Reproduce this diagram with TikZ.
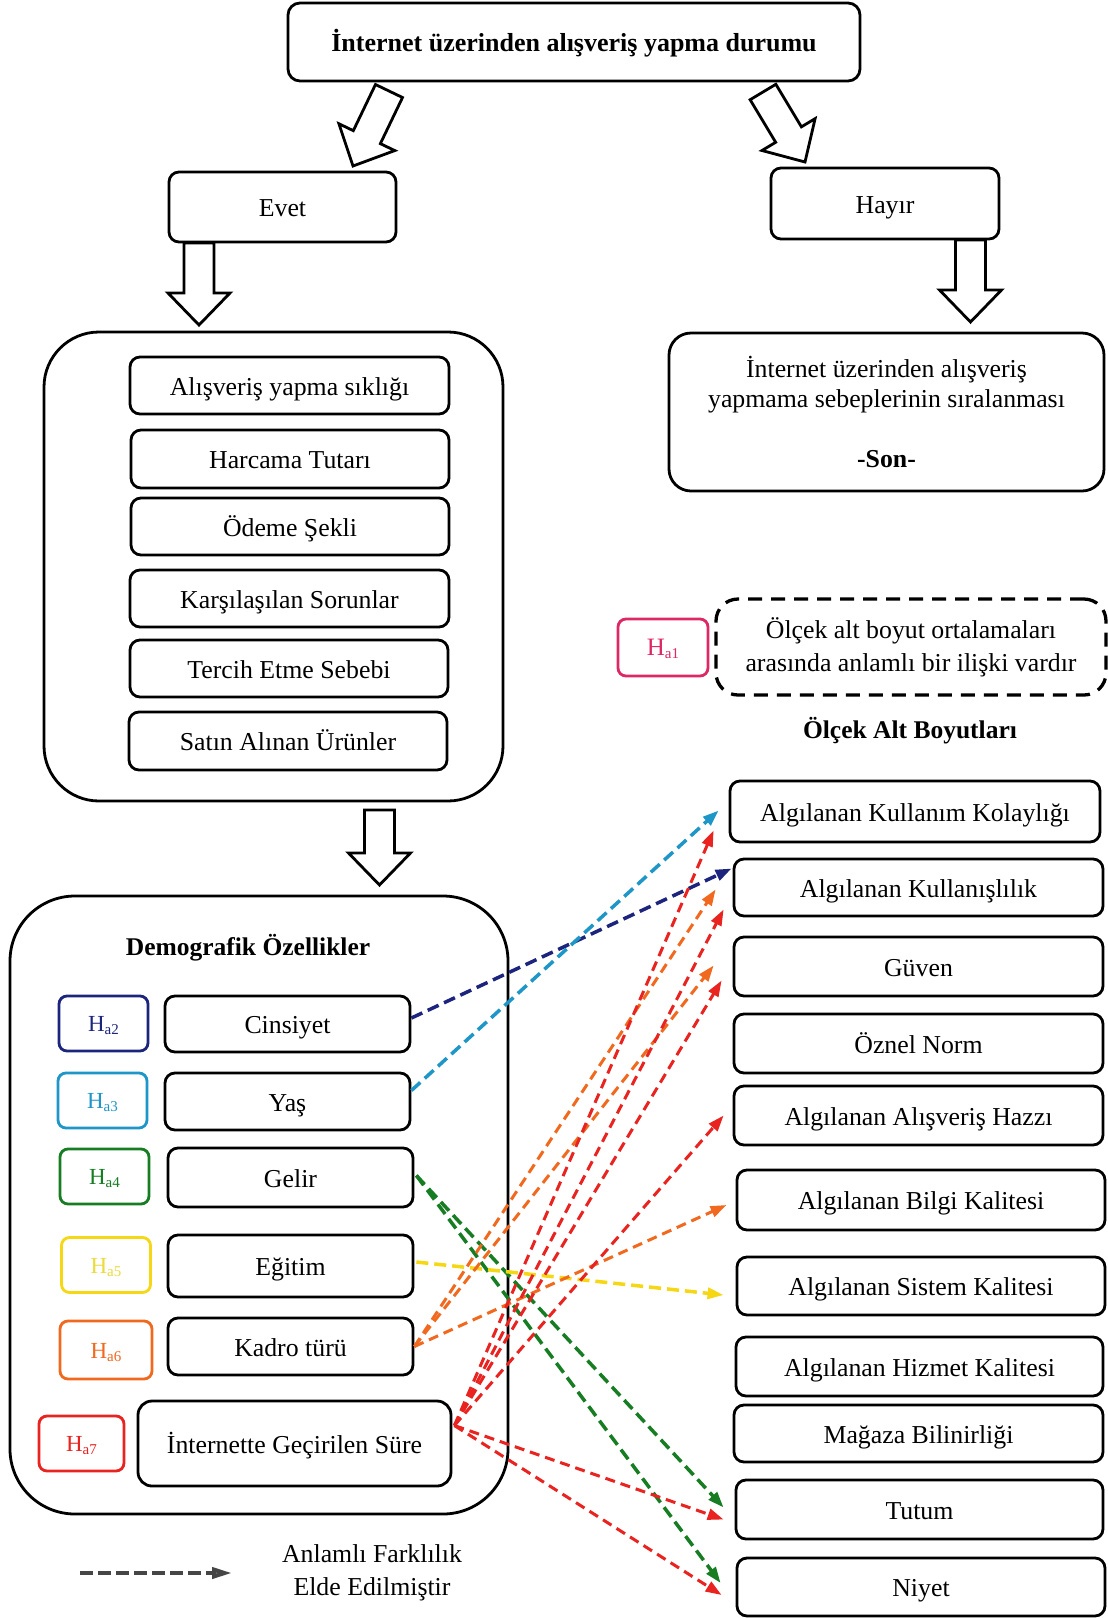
\documentclass[tikz,border=0pt]{standalone}
\usepackage{fontspec}
\setmainfont{Liberation Serif}
\usetikzlibrary{calc,arrows.meta}
\definecolor{cnavy}{RGB}{28,36,125}
\definecolor{ccyan}{RGB}{30,150,200}
\definecolor{cgreen}{RGB}{22,125,35}
\definecolor{cyellow}{RGB}{245,215,20}
\definecolor{cyellowtxt}{RGB}{235,220,60}
\definecolor{corange}{RGB}{240,105,30}
\definecolor{cred}{RGB}{232,35,32}
\definecolor{cpink}{RGB}{222,40,100}
\definecolor{cgray}{RGB}{70,70,70}
\newcommand{\hsub}[1]{H\raisebox{-3pt}{\fontsize{15}{15}\selectfont #1}}
\newcommand{\blockarr}[2]{%
  \path ($(#2)!32pt!(#1)$) coordinate (bah);
  \draw[barrow] ($(#1)!15pt!90:(#2)$) -- ($(bah)!15pt!90:(#2)$) -- ($(bah)!31pt!90:(#2)$) -- (#2)
     -- ($(bah)!31pt!-90:(#2)$) -- ($(bah)!15pt!-90:(#2)$) -- ($(#1)!15pt!-90:(#2)$) -- cycle;}
\begin{document}
\begin{tikzpicture}[x=1pt,y=-1pt,
  bxm/.style={draw, line width=2.8pt, rounded corners=10pt, align=center, inner sep=0pt,
    font=\fontsize{25.8}{30}\selectfont},
  bx/.style={bxm, text height=21pt, text depth=2pt},
  rb/.style={bx, minimum width=369pt},
  db/.style={bx, minimum width=245pt},
  lb/.style={bx, minimum width=318pt, minimum height=57pt},
  hb/.style={draw=#1, text=#1, line width=2.8pt, rounded corners=8pt, minimum width=89pt,
    minimum height=55pt, inner sep=0pt, text height=17pt, text depth=1pt,
    font=\fontsize{23}{23}\selectfont},
  big/.style={draw, line width=2.8pt, inner sep=0pt},
  ttl/.style={font=\fontsize{25.5}{30}\selectfont\bfseries, inner sep=0pt},
  barrow/.style={draw, fill=white, line width=2.8pt, line join=miter},
  conn/.style={line width=3pt, dash pattern=on 10pt off 6pt, -{Triangle[length=16pt,width=11pt]}},
  connw/.style={conn, line width=3.5pt, dash pattern=on 12pt off 6pt},
]
\useasboundingbox (0,0) rectangle (1108,1618);
\fill[white] (0,0) rectangle (1108,1618);

% top part
\node[bx, rounded corners=12pt, minimum width=572pt, minimum height=78pt,
  font=\fontsize{26}{30}\selectfont\bfseries] (top) at (574,42) {İnternet üzerinden alışveriş yapma durumu};
\node[bx, minimum width=227pt, minimum height=70pt] (evet) at (282.5,207) {Evet};
\node[bx, minimum width=228pt, minimum height=71pt] (hayir) at (885,203.5) {Hayır};

\coordinate (a1s) at (389,91);  \coordinate (a1e) at (353,166);
\coordinate (a2s) at (763,92);  \coordinate (a2e) at (805,162);
\coordinate (a3s) at (199,243); \coordinate (a3e) at (199,325);
\coordinate (a4s) at (970.5,240); \coordinate (a4e) at (970.5,322);
\coordinate (a5s) at (379.5,810); \coordinate (a5e) at (379.5,885);
\blockarr{a1s}{a1e}
\blockarr{a2s}{a2e}
\blockarr{a3s}{a3e}
\blockarr{a4s}{a4e}

% left group
\node[big, rounded corners=55pt, minimum width=459pt, minimum height=469pt] (leftbig) at (273.5,566.5) {};
\node[lb, minimum width=319pt] (alis) at (289.5,385.5) {Alışveriş yapma sıklığı};
\node[lb, minimum height=58pt] (harc) at (290,459) {Harcama Tutarı};
\node[lb] (odeme) at (290,526.5) {Ödeme Şekli};
\node[lb, minimum width=319pt] (kars) at (289.5,598.5) {Karşılaşılan Sorunlar};
\node[lb] (terc) at (289,668.5) {Tercih Etme Sebebi};
\node[lb, minimum height=58pt] (satin) at (288,741) {Satın Alınan Ürünler};

% right top
\node[bxm, rounded corners=22pt, minimum width=435pt, minimum height=158pt] (son) at (886.5,412)
  {İnternet üzerinden alışveriş\\yapmama sebeplerinin sıralanması\\[30pt]\textbf{-Son-}};

\node[hb=cpink, minimum width=90pt, minimum height=57pt, font=\fontsize{25}{25}\selectfont] (ha1) at (663,647.5) {\hsub{a1}};
\node[bxm, rounded corners=22pt, line width=3.3pt, dash pattern=on 14pt off 9pt,
  minimum width=390pt, minimum height=96pt, font=\fontsize{25.8}{33}\selectfont] (hyp) at (911,647)
  {Ölçek alt boyut ortalamaları\\arasında anlamlı bir ilişki vardır};
\node[ttl] (olcek) at (910,731) {Ölçek Alt Boyutları};

\blockarr{a5s}{a5e}

% demographic group
\node[big, rounded corners=65pt, minimum width=498pt, minimum height=618pt] (demo) at (259,1205) {};
\node[ttl] (demot) at (248,948) {Demografik Özellikler};
\node[hb=cnavy] (ha2) at (103.5,1023.5) {\hsub{a2}};
\node[hb=ccyan] (ha3) at (102.5,1100.5) {\hsub{a3}};
\node[hb=cgreen] (ha4) at (104.5,1176.5) {\hsub{a4}};
\node[hb=cyellow, text=cyellowtxt] (ha5) at (106,1265) {\hsub{a5}};
\node[hb=corange, minimum width=92pt, minimum height=58pt] (ha6) at (106,1350) {\hsub{a6}};
\node[hb=cred, minimum width=85pt] (ha7) at (81.5,1443.5) {\hsub{a7}};
\node[db, minimum height=56pt] (cins) at (287.5,1024) {Cinsiyet};
\node[db, minimum height=57pt] (yas) at (287.5,1101.5) {Yaş};
\node[db, minimum height=59pt] (gelir) at (290.5,1177.5) {Gelir};
\node[db, minimum height=62pt] (egit) at (290.5,1266) {Eğitim};
\node[db, minimum height=57pt] (kadro) at (290.5,1346.5) {Kadro türü};
\node[bx, rounded corners=14pt, minimum width=313pt, minimum height=85pt] (inet) at (294.5,1443.5) {İnternette Geçirilen Süre};

% right column
\node[rb, minimum width=370pt, minimum height=61pt] (r1) at (915,811.5) {Algılanan Kullanım Kolaylığı};
\node[rb, minimum height=57pt] (r2) at (918.5,887.5) {Algılanan Kullanışlılık};
\node[rb, minimum height=59pt] (r3) at (918.5,966.5) {Güven};
\node[rb, minimum height=59pt] (r4) at (918.5,1043.5) {Öznel Norm};
\node[rb, minimum height=59pt] (r5) at (918.5,1115.5) {Algılanan Alışveriş Hazzı};
\node[rb, minimum width=368pt, minimum height=60pt] (r6) at (921,1200) {Algılanan Bilgi Kalitesi};
\node[rb, minimum width=368pt, minimum height=58pt] (r7) at (921,1286) {Algılanan Sistem Kalitesi};
\node[rb, minimum width=367pt, minimum height=59pt] (r8) at (919.5,1366.5) {Algılanan Hizmet Kalitesi};
\node[rb, minimum height=57pt] (r9) at (918.5,1433.5) {Mağaza Bilinirliği};
\node[rb, minimum width=367pt, minimum height=59pt] (r10) at (919.5,1509.5) {Tutum};
\node[rb, minimum width=368pt, minimum height=58pt] (r11) at (921,1587) {Niyet};

% connectors
\draw[connw, cnavy] ($(cins.east)+(0,-6)$) -- ($(r2.west)+(-1,-19)$);
\draw[connw, ccyan] ($(yas.east)+(0,-11)$) -- ($(r1.west)+(-10,-1)$);
\draw[connw, cgreen] ($(gelir.east)+(2,-2)$) -- ($(r10.west)+(-11,-2)$);
\draw[connw, cgreen] ($(gelir.east)+(2,-2)$) -- ($(r11.west)+(-15,-4)$);
\draw[connw, cyellow] ($(egit.east)+(2,-4)$) -- ($(r7.west)+(-12,9)$);
\draw[conn, corange] (kadro.east) -- ($(r2.west)+(-17,2)$);
\draw[conn, corange] (kadro.east) -- ($(r3.west)+(-19,-1)$);
\draw[conn, corange] (kadro.east) -- ($(r6.west)+(-9,5)$);
\coordinate (rs) at ($(inet.east)+(2,-18)$);
\draw[conn, cred] (rs) -- ($(r1.west)+(-15,19)$);
\draw[conn, cred] (rs) -- ($(r2.west)+(-9,22)$);
\draw[conn, cred] (rs) -- ($(r3.west)+(-11,14)$);
\draw[conn, cred] (rs) -- ($(r5.west)+(-9,0)$);
\draw[conn, cred] (rs) -- ($(r10.west)+(-11,10)$);
\draw[conn, cred] (rs) -- ($(r11.west)+(-14,8)$);

% legend
\coordinate (lg1) at (80,1573);
\coordinate (lg2) at (232,1573);
\draw[cgray, line width=4pt, dash pattern=on 13pt off 5pt,
  -{Triangle[length=20pt,width=11pt,fill=gray!70]}] (lg1) -- (lg2);
\node[align=center, inner sep=0pt, font=\fontsize{25.8}{33}\selectfont] (legt) at (372,1572.5)
  {Anlamlı Farklılık\\Elde Edilmiştir};
\end{tikzpicture}
\end{document}
